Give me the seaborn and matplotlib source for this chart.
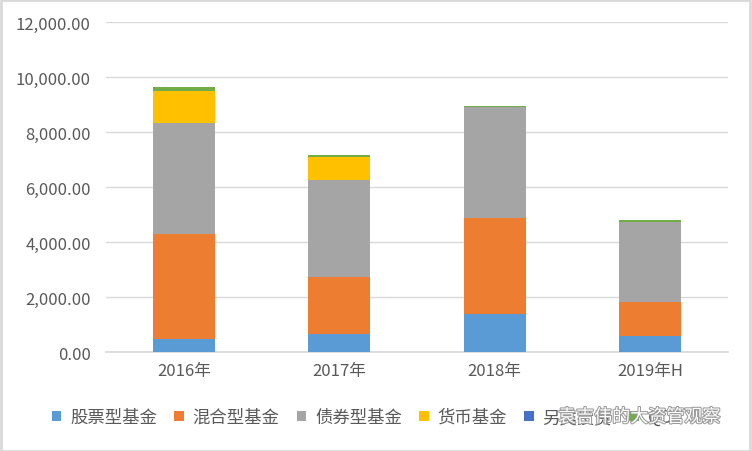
import matplotlib
matplotlib.use("Agg")
import matplotlib.pyplot as plt
import matplotlib.patheffects as pe
from matplotlib.patches import Rectangle
import seaborn as sns
import pandas as pd
import numpy as np

categories = ["2016年", "2017年", "2018年", "2019年H"]
series_names = ["股票型基金", "混合型基金", "债券型基金", "货币基金", "另类投资", "QDII"]
stock = [484, 644, 1382, 582]
mixed = [3807, 2095, 3491, 1236]
bond = [4036, 3516, 4047, 2920]
money = [1164, 836, 0, 0]
alt = [0, 0, 0, 0]
qdii = [145, 73, 25, 62]
colors = ["#5B9BD5", "#ED7D31", "#A5A5A5", "#FFC000", "#4472C4", "#70AD47"]
yticks = [0, 2000, 4000, 6000, 8000, 10000, 12000]

sns.set_theme(style="white")
plt.rcParams['font.family'] = ['Noto Sans CJK SC', 'DejaVu Sans']

fig = plt.figure(figsize=(7.52, 4.52), dpi=100)
ax = fig.add_axes([0.141, 0.219, 0.827, 0.730])

values = [stock, mixed, bond, money, alt, qdii]
cum = np.cumsum(np.array(values, dtype=float), axis=0)

for i in range(len(series_names) - 1, -1, -1):
    df = pd.DataFrame({"cat": categories, "val": cum[i]})
    sns.barplot(data=df, x="cat", y="val", color=colors[i], width=0.4,
                saturation=1, ax=ax, zorder=3, label=series_names[i],
                linewidth=0, edgecolor="none")

ax.set_ylim(0, 12000)
ax.set_xlim(-0.5, 3.5)
ax.set_yticks(yticks)
ax.set_yticklabels([f"{v:,.2f}" for v in yticks])
ax.set_xlabel("")
ax.set_ylabel("")
ax.yaxis.grid(True, color="#D9D9D9", linewidth=1, zorder=0)
ax.xaxis.grid(False)
ax.set_axisbelow(True)
for s in ["top", "right", "left"]:
    ax.spines[s].set_visible(False)
ax.spines["bottom"].set_color("#D9D9D9")
ax.tick_params(axis="both", length=0, colors="#595959", labelsize=12)
ax.tick_params(axis="y", pad=11)
ax.tick_params(axis="x", pad=7)

handles, labels = ax.get_legend_handles_labels()
order = [labels.index(n) for n in series_names]
leg = ax.legend([handles[k] for k in order], [labels[k] for k in order],
                loc="center", bbox_to_anchor=(0.42, -0.197), ncol=6, frameon=False,
                fontsize=12.5, handlelength=0.55, handleheight=0.55, handletextpad=0.5,
                columnspacing=1.0, labelcolor="#595959")

fig.text(0.742, 0.075, "袁吉伟的大资管观察", fontsize=13, color="white",
         va="center", ha="left",
         path_effects=[pe.withStroke(linewidth=1.5, foreground="#9A9A9A")])

fig.patches.append(Rectangle((0.001, 0.001), 0.997, 0.997, transform=fig.transFigure,
                             fill=False, edgecolor="#D9D9D9", linewidth=2))

fig.savefig("out.png", dpi=100, facecolor="white")
